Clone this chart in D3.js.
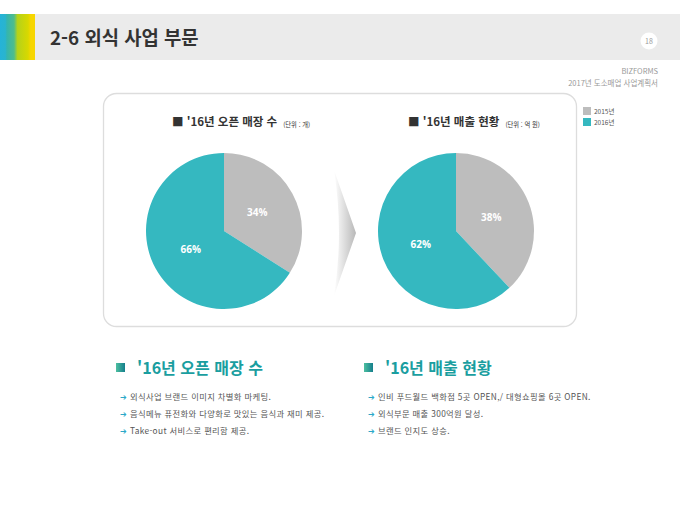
<!DOCTYPE html>
<html lang="ko">
<head>
  <meta charset="UTF-8">
  <title>2-6 외식 사업 부문</title>
  <script src="https://d3js.org/d3.v7.min.js"></script>
  <style>
    body { margin: 0; background: #fff; }
    svg { display: block; font-family: "Noto Sans CJK KR", "Noto Sans", sans-serif; }
  </style>
</head>
<body>
  <div id="chart"></div>

  <script>
    // 데이터
    const categories = ["2015년", "2016년"];
    const storeShares = [34, 66];   // '16년 오픈 매장 수 (단위 : 개)
    const salesShares = [38, 62];   // '16년 매출 현황 (단위 : 억 원)
    const pieTitles = ["'16년 오픈 매장 수", "'16년 매출 현황"];
    const pieUnits = ["(단위 : 개)", "(단위 : 억 원)"];
    const bullets1 = [
      "외식사업 브랜드 이미지 차별화 마케팅.",
      "음식메뉴 퓨전화와 다양화로 맛있는 음식과 재미 제공.",
      "Take-out 서비스로 편리함 제공."
    ];
    const bullets2 = [
      "인비 푸드월드  백화점 5곳 OPEN,/ 대형쇼핑몰 6곳 OPEN.",
      "외식부문 매출 300억원 달성.",
      "브랜드 인지도 상승."
    ];

    const width = 680, height = 510;
    const svg = d3.select("#chart").append("svg")
      .attr("width", width).attr("height", height);

    const defs = svg.append("defs");
    const stripe = defs.append("linearGradient").attr("id", "stripe");
    [["0%", "#25b3d8"], ["15%", "#29b4cf"], ["20%", "#35b5ad"], ["40%", "#4fbd8c"], ["50%", "#b5d21a"], ["80%", "#d8d800"], ["88%", "#f7d600"], ["100%", "#f7d600"]]
      .forEach(s => stripe.append("stop").attr("offset", s[0]).attr("stop-color", s[1]));
    const chev = defs.append("linearGradient").attr("id", "chev");
    chev.append("stop").attr("offset", "0%").attr("stop-color", "#fff");
    chev.append("stop").attr("offset", "100%").attr("stop-color", "#b8b8b8");
    const icon = defs.append("linearGradient").attr("id", "icon");
    icon.append("stop").attr("offset", "0%").attr("stop-color", "#4dbfa0");
    icon.append("stop").attr("offset", "100%").attr("stop-color", "#157f8c");

    // 헤더
    svg.append("rect").attr("x", 0).attr("y", 14).attr("width", width).attr("height", 46).attr("fill", "#ebebeb");
    svg.append("rect").attr("x", 0).attr("y", 14).attr("width", 35).attr("height", 46).attr("fill", "url(#stripe)");
    svg.append("text").attr("x", 50).attr("y", 45)
      .attr("font-size", 18.8).attr("font-weight", "bold").attr("fill", "#333")
      .text("2-6 외식 사업 부문");
    svg.append("circle").attr("cx", 649).attr("cy", 41).attr("r", 8.5).attr("fill", "#fff");
    svg.append("text").attr("x", 649).attr("y", 43.5).attr("text-anchor", "middle")
      .attr("font-size", 7).attr("fill", "#999").text("18");
    svg.append("text").attr("x", 658).attr("y", 74).attr("text-anchor", "end")
      .attr("font-size", 7.5).attr("fill", "#999").text("BIZFORMS");
    svg.append("text").attr("x", 658).attr("y", 86).attr("text-anchor", "end")
      .attr("font-size", 7.5).attr("fill", "#999").text("2017년 도소매업 사업계획서");

    // 카드
    svg.append("rect").attr("x", 103.5).attr("y", 93.5).attr("width", 473).attr("height", 233)
      .attr("rx", 13).attr("fill", "#fff").attr("stroke", "#ddd").attr("stroke-width", 1.3);

    // 범례
    const color = d3.scaleOrdinal().domain(categories).range(["#bdbdbd", "#35b8c0"]);
    const legend = svg.append("g").attr("transform", "translate(583,107)");
    categories.forEach((c, i) => {
      legend.append("rect").attr("x", 0).attr("y", i * 11).attr("width", 8).attr("height", 8).attr("fill", color(c));
      legend.append("text").attr("x", 11).attr("y", i * 11 + 6.5)
        .attr("font-size", 6.5).attr("fill", "#555").text(c);
    });

    // 파이
    const pie = d3.pie().sort(null);
    const R = 78;
    const arc = d3.arc().innerRadius(0).outerRadius(R);
    const labelArc = d3.arc().innerRadius(38).outerRadius(38);
    const centers = [[224, 231], [456, 231]];
    const titleX = [172, 408];

    [storeShares, salesShares].forEach((vals, k) => {
      const g = svg.append("g").attr("transform", `translate(${centers[k][0]},${centers[k][1]})`);
      const arcs = pie(vals);
      g.selectAll("path").data(arcs).enter().append("path")
        .attr("d", arc).attr("fill", (d, i) => color(categories[i]));
      g.selectAll("text").data(arcs).enter().append("text")
        .attr("transform", d => `translate(${labelArc.centroid(d)})`)
        .attr("dy", "0.35em").attr("text-anchor", "middle")
        .attr("font-family", "'Open Sans', sans-serif")
        .attr("font-size", 10).attr("font-weight", "bold").attr("fill", "#fff")
        .text(d => d.data + "%");

      const t = svg.append("text").attr("x", titleX[k]).attr("y", 126).attr("fill", "#333");
      t.append("tspan").attr("font-size", 11.5).attr("font-weight", "bold").text("■ " + pieTitles[k]);
      t.append("tspan").attr("font-size", 6.3).attr("dx", 6).attr("dy", 1).text(pieUnits[k]);
    });

    // 화살표
    svg.append("path").attr("d", "M334,170 L356,233 L334,296 Q344,233 334,170 Z").attr("fill", "url(#chev)");

    // 하단 설명
    const sections = [
      { x: 116, title: pieTitles[0], items: bullets1 },
      { x: 364, title: pieTitles[1], items: bullets2 }
    ];
    sections.forEach(s => {
      svg.append("rect").attr("x", s.x).attr("y", 363).attr("width", 9).attr("height", 9).attr("fill", "url(#icon)");
      svg.append("text").attr("x", s.x + 21).attr("y", 373.5)
        .attr("font-size", 16).attr("font-weight", "bold").attr("fill", "#1a9ea0").text(s.title);
      s.items.forEach((txt, i) => {
        svg.append("text").attr("x", s.x + 4).attr("y", 400 + i * 17)
          .attr("font-size", 8).attr("fill", "#2ba8c8").text("➔");
        svg.append("text").attr("x", s.x + 14).attr("y", 400 + i * 17)
          .attr("font-size", 8.3).attr("letter-spacing", 0.35).attr("fill", "#555").text(txt);
      });
    });
  </script>
</body>
</html>
